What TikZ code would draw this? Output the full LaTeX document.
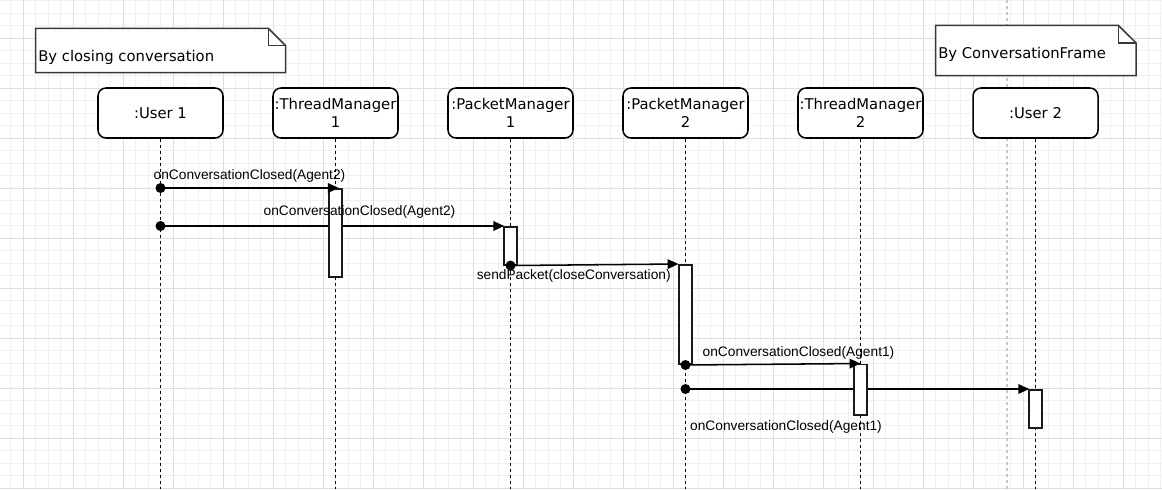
\documentclass[tikz,border=0pt]{standalone}
\usepackage{fontspec}
\setmainfont{DejaVu Sans}
\newfontfamily\msgfont{Liberation Sans}
\usetikzlibrary{arrows.meta}

\begin{document}
% units: 1 unit = 1 screen pixel (0.75pt), y grows downwards
\begin{tikzpicture}[x=0.75pt,y=-0.75pt,
  gridminor/.style={draw=black!6, line width=0.75pt},
  gridmajor/.style={draw=black!13, line width=0.75pt},
  guide/.style={draw=black!22, line width=1.1pt, dash pattern=on 2.25pt off 2.25pt},
  head/.style={draw=black, line width=1.15pt, rounded corners=6pt, fill=white,
    minimum width=93.75pt, minimum height=37.5pt, align=center, inner sep=0pt,
    font=\fontsize{11.1pt}{13.3pt}\selectfont},
  lifeline/.style={draw=black, line width=1.15pt, dash pattern=on 2.4pt off 2.1pt},
  bar/.style={draw=black!90, line width=1.15pt, fill=white, minimum width=9.4pt,
    inner sep=0pt, anchor=north},
  msg/.style={draw=black, line width=1.15pt, -{Triangle[length=8.2pt,width=7.2pt]}},
  dot/.style={fill=black},
  lbl/.style={font=\msgfont\fontsize{10.3pt}{12pt}\selectfont, inner sep=0pt},
  note/.style={draw=black!78, line width=1.15pt, fill=white},
  notetext/.style={font=\fontsize{11.1pt}{13.3pt}\selectfont, inner sep=0pt, anchor=west}
]
\useasboundingbox (0,0) rectangle (1162,489);
\fill[white] (0,0) rectangle (1162,489);

% background grid
\foreach \k in {0,...,92} \draw[gridminor] ({10.8+12.5*\k},0) -- ({10.8+12.5*\k},489);
\foreach \k in {0,...,39} \draw[gridminor] (0,{0.8+12.5*\k}) -- (1162,{0.8+12.5*\k});
\foreach \k in {0,...,22} \draw[gridmajor] ({23.3+50*\k},0) -- ({23.3+50*\k},489);
\foreach \k in {0,...,9} \draw[gridmajor] (0,{38.3+50*\k}) -- (1162,{38.3+50*\k});

% alignment guide
\coordinate (gtop) at (1007,0);
\coordinate (gbot) at (1007,489);
\draw[guide] (gtop) -- (gbot);

% notes with folded corner
\path[note] (35.7,28.3) -- (268.3,28.3) -- (285.7,45.7) -- (285.7,72.7) -- (35.7,72.7) -- cycle;
\draw[note, fill=none] (268.3,28.3) -- (268.3,45.7) -- (285.7,45.7);
\node[notetext] (note1) at (38,57) {By closing conversation};

\path[note] (935.7,25.3) -- (1118.3,25.3) -- (1136,42.9) -- (1136,75.7) -- (935.7,75.7) -- cycle;
\draw[note, fill=none] (1118.3,25.3) -- (1118.3,42.9) -- (1136,42.9);
\node[notetext] (note2) at (938,54) {By ConversationFrame};

% lifeline heads
\node[head] (u1)  at (160.5,113) {:User 1};
\node[head] (tm1) at (335.5,113) {:ThreadManager\\1};
\node[head] (pm1) at (510.5,113) {:PacketManager\\1};
\node[head] (pm2) at (685.5,113) {:PacketManager\\2};
\node[head] (tm2) at (860.5,113) {:ThreadManager\\2};
\node[head] (u2)  at (1035.5,113) {:User 2};

% lifelines
\coordinate (u1e)  at (160.5,489);
\coordinate (tm1e) at (335.5,489);
\coordinate (pm1e) at (510.5,489);
\coordinate (pm2e) at (685.5,489);
\coordinate (tm2e) at (860.5,489);
\coordinate (u2e)  at (1035.5,489);
\draw[lifeline] (u1.south) -- (u1e);
\draw[lifeline] (tm1.south) -- (tm1e);
\draw[lifeline] (pm1.south) -- (pm1e);
\draw[lifeline] (pm2.south) -- (pm2e);
\draw[lifeline] (tm2.south) -- (tm2e);
\draw[lifeline] (u2.south) -- (u2e);

% activation bar anchors
\coordinate (tm1top) at (335.5,188);
\coordinate (pm1top) at (510.5,226);
\coordinate (pm2top) at (685.5,264);
\coordinate (tm2top) at (860.5,363.5);
\coordinate (u2top)  at (1035.5,389);

% messages that pass behind activation bars
\draw[msg] (u1 |- pm1top) -- ([xshift=-4.7pt]pm1top);
\draw[msg] (pm2 |- u2top) -- ([xshift=-4.7pt]u2top);

% activation bars
\node[bar, minimum height=66pt]   (tm1bar) at (tm1top) {};
\node[bar, minimum height=28.5pt] (pm1bar) at (pm1top) {};
\node[bar, minimum height=74.6pt] (pm2bar) at (pm2top) {};
\node[bar, minimum height=37.9pt] (tm2bar) at (tm2top) {};
\node[bar, minimum height=28.5pt] (u2bar)  at (u2top) {};

% remaining messages
\draw[msg] (u1 |- tm1bar.north) -- ([xshift=2.5pt]tm1bar.north);
\draw[msg] (pm1bar.south) -- (pm2bar.north west);
\draw[msg] (pm2bar.south) -- (tm2bar.north);

% message start points
\fill[dot] (u1 |- tm1bar.north) circle[radius=3.75pt];
\fill[dot] (u1 |- pm1bar.north) circle[radius=3.75pt];
\fill[dot] (pm1bar.south) circle[radius=3.75pt];
\fill[dot] (pm2bar.south) circle[radius=3.75pt];
\fill[dot] (pm2 |- u2bar.north) circle[radius=3.75pt];

% message labels
\node[lbl] (l1) at (249.5,176)   {onConversationClosed(Agent2)};
\node[lbl] (l2) at (359.5,211.7) {onConversationClosed(Agent2)};
\node[lbl] (l3) at (573.7,275.7) {sendPacket(closeConversation)};
\node[lbl] (l4) at (798.5,352.7) {onConversationClosed(Agent1)};
\node[lbl] (l5) at (786,426.7)   {onConversationClosed(Agent1)};
\end{tikzpicture}
\end{document}
